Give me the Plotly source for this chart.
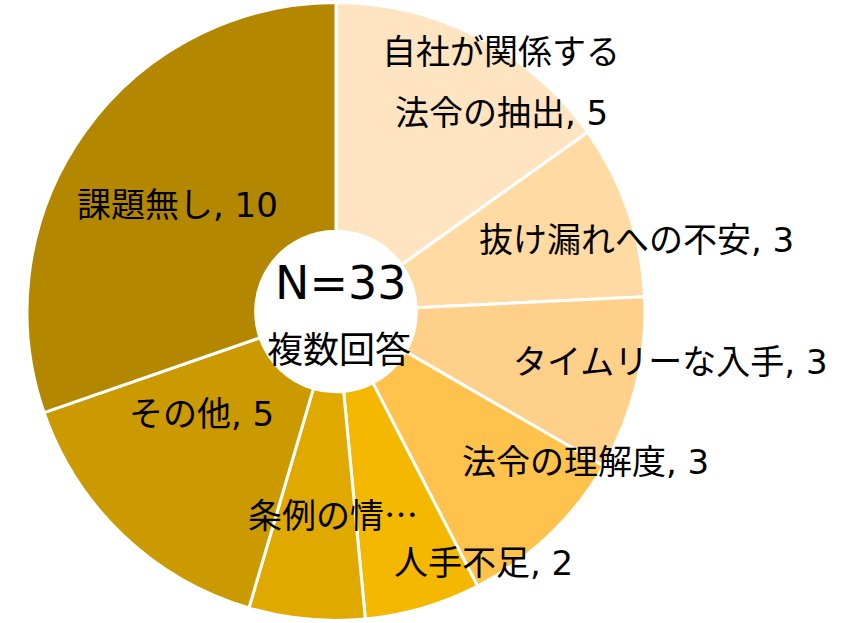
import plotly.graph_objects as go

categories = ["自社が関係する法令の抽出", "抜け漏れへの不安", "タイムリーな入手", "法令の理解度",
              "人手不足", "条例の情報", "その他", "課題無し"]
values = [5, 3, 3, 3, 2, 2, 5, 10]
colors = ["#FFE4C2", "#FFDAA2", "#FFD08A", "#FFC24C", "#F4B800", "#E0A900", "#CB9900", "#B38800"]
# displayed label lines (as truncated/wrapped in the original)
label_lines = [["自社が関係する", "法令の抽出, 5"], ["抜け漏れへの不安, 3"], ["タイムリーな入手, 3"],
               ["法令の理解度, 3"], ["人手不足, 2"], ["条例の情…"], ["その他, 5"], ["課題無し, 10"]]
label_pos = [[(501, 52), (501, 113)], [(636, 240)], [(670, 362)], [(585, 462)],
             [(483, 563)], [(333, 513)], [(201, 414)], [(177, 205)]]
center_texts = ["N=33", "複数回答"]

W, H = 846, 623
cx, r = 336, 309

fig = go.Figure(go.Pie(
    labels=categories, values=values, sort=False, direction="clockwise", rotation=0,
    hole=0.26, textinfo="none", hoverinfo="label+value",
    marker=dict(colors=colors, line=dict(color="white", width=3)),
    domain=dict(x=[(cx - r) / W, (cx + r) / W], y=[0, 1]),
    showlegend=False,
))

font = "DejaVu Sans, Noto Sans CJK JP"
ann = []
for lines, poss in zip(label_lines, label_pos):
    for t, (x, y) in zip(lines, poss):
        fam = "Noto Sans CJK JP" if "…" in t else font
        ann.append(dict(text=t, x=x / W, y=1 - y / H, xref="paper", yref="paper",
                        showarrow=False, xanchor="center", yanchor="middle",
                        font=dict(family=fam, size=34, color="black")))
ann.append(dict(text=center_texts[0], x=341 / W, y=1 - 283 / H, xref="paper", yref="paper",
                showarrow=False, xanchor="center", yanchor="middle",
                font=dict(family=font, size=46, color="black")))
ann.append(dict(text=center_texts[1], x=339 / W, y=1 - 350 / H, xref="paper", yref="paper",
                showarrow=False, xanchor="center", yanchor="middle",
                font=dict(family=font, size=36, color="black")))

fig.update_layout(width=W, height=H, margin=dict(l=0, r=0, t=0, b=0),
                  paper_bgcolor="white", plot_bgcolor="white", annotations=ann)
fig.write_html("out.html", config={"displayModeBar": False},
               post_script="document.body.style.margin='0';")
